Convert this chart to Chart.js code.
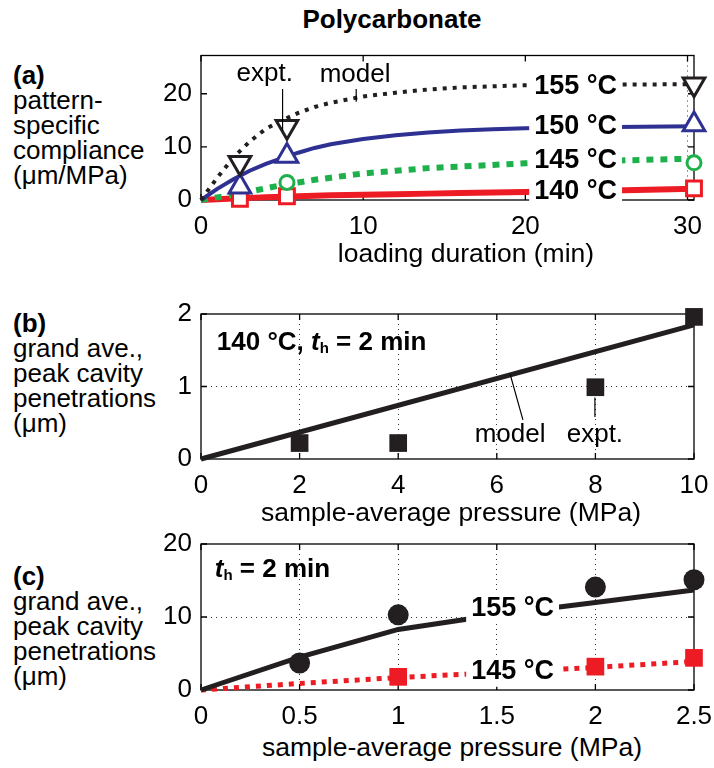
<!DOCTYPE html>
<html>
<head>
<meta charset="utf-8">
<script src="https://cdn.jsdelivr.net/npm/chart.js@4.4.1/dist/chart.umd.min.js"></script>
<style>
  body { margin: 0; width: 714px; height: 768px; background: #fff; position: relative; overflow: hidden;
         font-family: "Liberation Sans", Arial, Helvetica, sans-serif; color: #000; }
  canvas { position: absolute; left: 0; }
  .side { position: absolute; left: 13px; font-size: 26px; line-height: 25px; white-space: nowrap; }
  .side b { display: block; }
  .axt { position: absolute; font-size: 26.5px; white-space: nowrap; transform: translate(-50%, -50%); }
  #title { position: absolute; left: 392px; top: 19px; font-size: 26px; font-weight: bold; transform: translate(-50%, -50%); }
</style>
</head>
<body>
<div id="title">Polycarbonate</div>

<div class="side" style="top:63px"><b>(a)</b>pattern-<br>specific<br>compliance<br>(μm/MPa)</div>
<div class="side" style="top:311px"><b>(b)</b>grand ave.,<br>peak cavity<br>penetrations<br>(μm)</div>
<div class="side" style="top:564px"><b>(c)</b>grand ave.,<br>peak cavity<br>penetrations<br>(μm)</div>

<canvas id="chartA" width="714" height="200" style="top:40px"></canvas>
<canvas id="chartB" width="714" height="199" style="top:300px"></canvas>
<canvas id="chartC" width="714" height="200" style="top:530px"></canvas>

<div class="axt" style="left:466px;top:253px">loading duration (min)</div>
<div class="axt" style="left:451px;top:512px">sample-average pressure (MPa)</div>
<div class="axt" style="left:452px;top:747px">sample-average pressure (MPa)</div>

<script>
// colours
const BLACK = '#231f20', BLUE = '#2e3192', GREEN = '#1eb04b', RED = '#ed1c24';

// (a) compliance vs loading duration
const exptTime = [2.4, 5.3, 30.4];
const expt155 = [7.0, 13.8, 21.8];
const expt150 = [2.5, 8.3, 14.2];
const exptTime145 = [5.3, 30.4];
const expt145 = [3.3, 7.0];
const expt140 = [0.2, 0.7, 2.2];
const modelTime = [0, 1, 2, 3, 4, 5, 6, 7, 8, 10, 12, 14, 16, 18, 20, 24, 30.4];
const model155 = [0, 4.2, 8.0, 11.0, 13.4, 15.0, 16.4, 17.5, 18.3, 19.5, 20.2, 20.8, 21.2, 21.4, 21.6, 21.7, 21.8];
const model150 = [0, 2.1, 3.9, 5.5, 6.8, 7.9, 8.9, 9.8, 10.5, 11.5, 12.2, 12.7, 13.1, 13.3, 13.5, 13.7, 13.9];
const model145 = [0, 0.5, 1.0, 1.6, 2.2, 2.8, 3.3, 3.8, 4.2, 5.0, 5.5, 6.0, 6.3, 6.6, 6.9, 7.3, 7.8];
const model140 = [0, 0.15, 0.3, 0.4, 0.5, 0.6, 0.7, 0.8, 0.9, 1.0, 1.1, 1.2, 1.3, 1.4, 1.5, 1.7, 2.1];
const timeTicks = [0, 10, 20, 30];
const complianceTicks = [0, 10, 20];

// (b) 140 °C, 2 min hold
const pressureB = [2, 4, 8, 10];
const depthB = [0.22, 0.22, 0.99, 1.96];
const modelPressureB = [0, 10];
const modelDepthB = [0, 1.85];
const pressureTicksB = [0, 2, 4, 6, 8, 10];
const depthTicksB = [0, 1, 2];

// (c) 155 °C and 145 °C, 2 min hold
const pressure155 = [0.5, 1, 2, 2.5];
const depth155 = [3.7, 10.3, 14.1, 15.1];
const pressure145 = [1, 2, 2.5];
const depth145 = [1.8, 3.2, 4.4];
const modelPressureC = [0, 0.5, 1, 1.5, 2, 2.5];
const modelDepth155 = [0, 4.5, 8.3, 10.3, 12.0, 13.7];
const modelDepth145 = [0, 0.9, 1.7, 2.4, 3.1, 3.9];
const pressureTicksC = [0, 0.5, 1, 1.5, 2, 2.5];
const depthTicksC = [0, 10, 20];

const pts = (xs, ys) => xs.map((x, i) => ({ x: x, y: ys[i] }));

Chart.defaults.font.family = '"Liberation Sans", Arial, sans-serif';
Chart.defaults.font.size = 26;
Chart.defaults.color = '#000';

// box round the plot area plus inward tick marks on all four sides
const framePlugin = {
  id: 'frame',
  beforeDatasetsDraw(chart) {
    const { ctx, chartArea: a, scales: { x, y } } = chart;
    const len = 6;
    ctx.save();
    ctx.strokeStyle = '#000';
    ctx.lineWidth = 1.3;
    ctx.beginPath();
    x.ticks.forEach(t => {
      const px = x.getPixelForValue(t.value);
      ctx.moveTo(px, a.bottom); ctx.lineTo(px, a.bottom - len);
      ctx.moveTo(px, a.top); ctx.lineTo(px, a.top + len);
    });
    y.ticks.forEach(t => {
      const py = y.getPixelForValue(t.value);
      ctx.moveTo(a.left, py); ctx.lineTo(a.left + len, py);
      ctx.moveTo(a.right, py); ctx.lineTo(a.right - len, py);
    });
    ctx.stroke();
    ctx.strokeRect(a.left, a.top, a.right - a.left, a.bottom - a.top);
    ctx.restore();
  }
};

// in-plot text and leader lines, placed in data units
const notesPlugin = {
  id: 'notes',
  afterDatasetsDraw(chart, args, opts) {
    const { ctx, scales: { x, y } } = chart;
    (opts.lines || []).forEach(l => {
      ctx.save();
      ctx.strokeStyle = '#000';
      ctx.lineWidth = 1.2;
      ctx.beginPath();
      ctx.moveTo(x.getPixelForValue(l[0]), y.getPixelForValue(l[1]));
      ctx.lineTo(x.getPixelForValue(l[2]), y.getPixelForValue(l[3]));
      ctx.stroke();
      ctx.restore();
    });
    (opts.texts || []).forEach(t => {
      const parts = t.parts || [{ text: t.text, font: t.font }];
      ctx.save();
      ctx.textBaseline = 'middle';
      let w = 0;
      parts.forEach(p => { ctx.font = p.font; w += ctx.measureText(p.text).width; });
      const cx = x.getPixelForValue(t.x), cy = y.getPixelForValue(t.y);
      let left = t.align === 'left' ? cx : cx - w / 2;
      if (t.box) {
        ctx.fillStyle = '#fff';
        ctx.fillRect(left - 5, cy - 15, w + 10, 30);
      }
      ctx.fillStyle = '#000';
      parts.forEach(p => {
        ctx.font = p.font;
        ctx.fillText(p.text, left, cy + (p.dy || 0));
        left += ctx.measureText(p.text).width;
      });
      ctx.restore();
    });
  }
};

function scales(xMin, xMax, xTicks, yMin, yMax, yTicks, showGridX, showGridY) {
  const grid = test => ({
    drawTicks: false,
    lineWidth: 1,
    color: c => (c.tick && test(c.tick.value)) ? '#333' : 'rgba(0,0,0,0)'
  });
  return {
    x: {
      type: 'linear', min: xMin, max: xMax,
      afterBuildTicks: s => { s.ticks = xTicks.map(v => ({ value: v })); },
      afterFit: s => { s.height = 40; s.paddingLeft = 0; s.paddingRight = 0; },
      ticks: { padding: 11, autoSkip: false, maxRotation: 0, callback: v => String(v) },
      grid: grid(showGridX),
      border: { display: false, dash: [1, 4] }
    },
    y: {
      type: 'linear', min: yMin, max: yMax,
      afterBuildTicks: s => { s.ticks = yTicks.map(v => ({ value: v })); },
      afterFit: s => { s.width = 201; s.paddingTop = 0; s.paddingBottom = 0; },
      ticks: { padding: 9, callback: v => String(v) },
      grid: grid(showGridY),
      border: { display: false, dash: [1, 4] }
    }
  };
}

function baseOptions(sc, notes, top) {
  return {
    responsive: false,
    animation: false,
    devicePixelRatio: 1,
    layout: { padding: { left: 0, right: 20, top: top, bottom: 0 } },
    scales: sc,
    plugins: { legend: { display: false }, tooltip: { enabled: false }, notes: notes }
  };
}

const bold27 = 'bold 27px "Liberation Sans", Arial, sans-serif';
const reg26 = '26px "Liberation Sans", Arial, sans-serif';
const bold26 = 'bold 26px "Liberation Sans", Arial, sans-serif';
const boldItal26 = 'italic bold 26px "Liberation Sans", Arial, sans-serif';
const sub = 'bold 15px "Liberation Sans", Arial, sans-serif';

function marker(label, data, style, radius, color, fill, extra) {
  return Object.assign({
    label: label, data: data, showLine: false, clip: false,
    pointStyle: style, pointRadius: radius, pointBorderWidth: fill ? 0 : 3,
    pointBorderColor: color, pointBackgroundColor: fill ? color : '#fff'
  }, extra || {});
}

function model(label, data, color, width, dash) {
  return {
    label: label, data: data, showLine: true, clip: false, pointRadius: 0,
    borderColor: color, borderWidth: width, borderDash: dash || [], borderCapStyle: 'butt',
    tension: 0, fill: false
  };
}

// (a)
new Chart(document.getElementById('chartA'), {
  type: 'scatter',
  data: {
    datasets: [
      marker('155 expt', pts(exptTime, expt155), 'triangle', 12.5, BLACK, false, { pointRotation: 180 }),
      marker('150 expt', pts(exptTime, expt150), 'triangle', 12.5, BLUE, false),
      marker('145 expt', pts(exptTime145, expt145), 'circle', 7, GREEN, false),
      marker('140 expt', pts(exptTime, expt140), 'rect', 10.5, RED, false),
      model('155 model', pts(modelTime, model155), BLACK, 4, [4, 6]),
      model('150 model', pts(modelTime, model150), BLUE, 4),
      model('145 model', pts(modelTime, model145), GREEN, 6, [7, 7]),
      model('140 model', pts(modelTime, model140), RED, 6)
    ]
  },
  options: baseOptions(
    scales(0, 30.4, timeTicks, 0, 27.2, complianceTicks, v => v === 30, () => false),
    {
      lines: [[5.03, 20.9, 5.03, 13.0], [9.57, 20.9, 9.57, 18.5]],
      texts: [
        { text: 'expt.', font: reg26, x: 3.93, y: 23.7 },
        { text: 'model', font: reg26, x: 9.5, y: 23.5 },
        { text: '155 °C', font: bold27, x: 23.1, y: 21.3, box: true },
        { text: '150 °C', font: bold27, x: 23.1, y: 13.9, box: true },
        { text: '145 °C', font: bold27, x: 23.1, y: 7.4, box: true },
        { text: '140 °C', font: bold27, x: 23.1, y: 1.5, box: true }
      ]
    }, 13),
  plugins: [framePlugin, notesPlugin]
});

// (b)
new Chart(document.getElementById('chartB'), {
  type: 'scatter',
  data: {
    datasets: [
      marker('expt', pts(pressureB, depthB), 'rect', 12.5, BLACK, true),
      model('model', pts(modelPressureB, modelDepthB), BLACK, 5)
    ]
  },
  options: baseOptions(
    scales(0, 10, pressureTicksB, 0, 2, depthTicksB, v => v > 0 && v < 10, v => v > 0 && v < 2),
    {
      lines: [[6.27, 1.17, 6.53, 0.54], [7.99, 0.85, 7.99, 0.58]],
      texts: [
        { parts: [
            { text: '140 °C, ', font: bold26 },
            { text: 't', font: boldItal26 },
            { text: 'h', font: sub, dy: 6 },
            { text: ' = 2 min', font: bold26 }
          ], x: 0.32, y: 1.6, align: 'left' },
        { text: 'model', font: reg26, x: 6.27, y: 0.33 },
        { text: 'expt.', font: reg26, x: 7.99, y: 0.33 }
      ]
    }, 14),
  plugins: [framePlugin, notesPlugin]
});

// (c)
new Chart(document.getElementById('chartC'), {
  type: 'scatter',
  data: {
    datasets: [
      marker('155 expt', pts(pressure155, depth155), 'circle', 10.5, BLACK, true),
      marker('145 expt', pts(pressure145, depth145), 'rect', 12.5, RED, true),
      model('155 model', pts(modelPressureC, modelDepth155), BLACK, 5),
      model('145 model', pts(modelPressureC, modelDepth145), RED, 5, [5, 6])
    ]
  },
  options: baseOptions(
    scales(0, 2.5, pressureTicksC, 0, 20, depthTicksC, v => v > 0 && v < 2.5, v => v > 0 && v < 20),
    {
      texts: [
        { parts: [
            { text: 't', font: boldItal26 },
            { text: 'h', font: sub, dy: 6 },
            { text: ' = 2 min', font: bold26 }
          ], x: 0.07, y: 16.4, align: 'left' },
        { text: '155 °C', font: bold27, x: 1.58, y: 11.1, box: true },
        { text: '145 °C', font: bold27, x: 1.58, y: 2.5, box: true }
      ]
    }, 14),
  plugins: [framePlugin, notesPlugin]
});
</script>
</body>
</html>
